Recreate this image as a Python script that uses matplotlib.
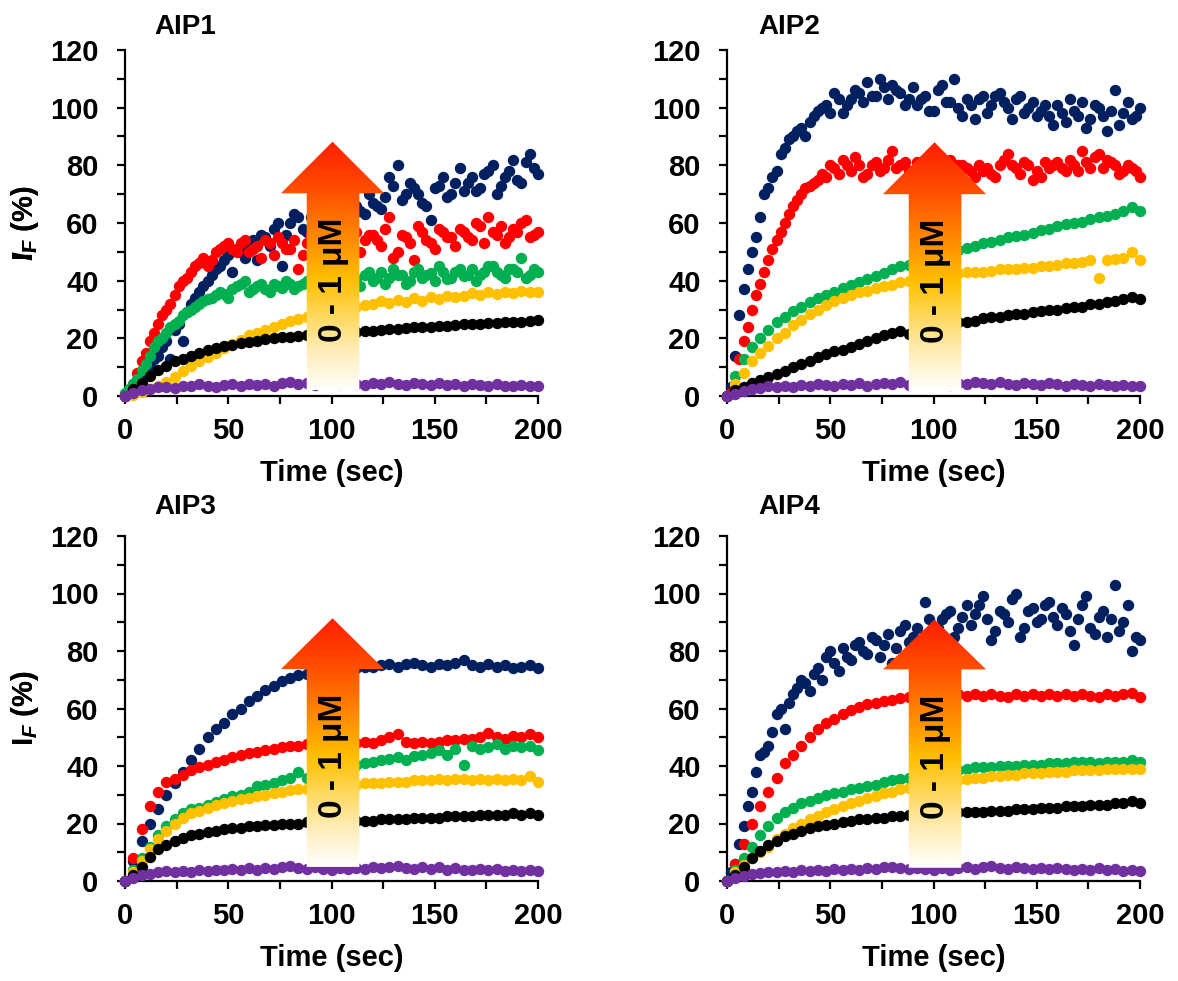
import matplotlib
matplotlib.use("Agg")
import matplotlib.pyplot as plt
import numpy as np
from matplotlib.patches import Polygon
from matplotlib.colors import LinearSegmentedColormap

plt.rcParams['font.family'] = 'Liberation Sans'
plt.rcParams['font.weight'] = 'bold'
plt.rcParams['mathtext.fontset'] = 'custom'
plt.rcParams['mathtext.rm'] = 'Liberation Sans:bold'
plt.rcParams['mathtext.it'] = 'Liberation Sans:italic:bold'
plt.rcParams['mathtext.bf'] = 'Liberation Sans:bold'

# time axis (sec), one reading every 4 s
time_s = list(range(0, 201, 4))
# extra readings in between (t = 2, 6, ... 198) for the scattered traces
time_mid = list(range(2, 200, 4))

# series colours, highest concentration first (plot order)
series_colors = ['#002060', '#FF0000', '#00B050', '#FFC000', '#000000', '#7030A0']

# ---------------- AIP1 ----------------
aip1_navy = [0, 2, 5, 10, 14, 19, 23, 19, 32, 36,
             40, 44, 47, 43, 50, 52, 47, 55, 58, 45,
             60, 62, 57, 61, 63, 60, 65, 62, 66, 63,
             67, 65, 76, 80, 70, 72, 67, 61, 73, 69,
             74, 71, 76, 72, 78, 70, 76, 82, 74, 84,
             77]
aip1_navy_mid = [1, 4, 8, 13, 17, 13, 25, 29, 34, 38,
                 42, 45, 49, 51, 48, 54, 56, 52, 60, 56,
                 63, 58, 62, 64, 59, 66, 63, 68, 64, 70,
                 66, 69, 73, 68, 74, 70, 66, 72, 76, 70,
                 79, 74, 71, 77, 80, 73, 78, 75, 81, 79]
aip1_red = [0, 4, 12, 19, 25, 30, 35, 40, 43, 46,
            45, 50, 52, 51, 53, 50, 52, 54, 49, 53,
            51, 44, 53, 55, 51, 54, 56, 52, 57, 54,
            56, 52, 62, 50, 55, 47, 57, 53, 58, 55,
            52, 57, 54, 59, 62, 56, 53, 58, 60, 55,
            57]
aip1_red_mid = [1.5, 8, 15, 22, 28, 32, 38, 41, 45, 48,
                47, 51, 53, 50, 54, 51, 48, 53, 55, 51,
                54, 49, 56, 53, 58, 51, 55, 53, 50, 56,
                54, 58, 48, 56, 53, 59, 54, 51, 57, 55,
                58, 55, 60, 53, 57, 59, 55, 57, 61, 56]
aip1_green = [1, 4, 9, 14, 19, 22, 25, 28, 30, 32,
              33.5, 35, 35.5, 37, 39, 36, 38, 37, 39, 37.5,
              39, 38, 40, 37, 39.5, 38.5, 41, 39, 40.5, 42,
              40, 43, 41, 42, 39, 43, 41, 42.5, 45, 40.5,
              43, 41.5, 44, 42, 45, 43, 41, 44, 48, 42,
              43]
aip1_green_mid = [2.5, 6, 11, 17, 20, 24, 26, 29, 31, 33,
                  34, 36, 34, 38, 40, 37, 39, 36, 38, 40,
                  37, 39, 41, 38, 40, 42, 39, 41, 38, 43,
                  41, 39, 44, 42, 40, 44, 42, 40, 43, 41,
                  44, 42, 40, 43, 45, 42, 44, 43, 41, 44]
aip1_yellow = [0, 0.5, 1.5, 2.5, 3.5, 5, 6.5, 8.5, 10.5, 12,
               13.5, 15, 16.5, 18, 19.5, 21, 22, 23, 24, 25,
               26, 26.8, 27.5, 28.2, 29, 29.5, 30, 30.5, 31, 31.4,
               31.8, 32.9, 32.1, 33.4, 32.6, 33.9, 33.1, 34.2, 33.6, 34.8,
               34.5, 34.8, 35.6, 35.2, 35.9, 35.5, 36.2, 35.7, 36.4, 35.9,
               36]
aip1_black = [0, 2.5, 4.5, 7, 9, 10.5, 12, 13, 14, 15,
              15.8, 16.5, 17.2, 17.8, 18.3, 18.8, 19.2, 19.6, 20, 20.3,
              20.6, 20.9, 21.1, 21.3, 21.5, 21.7, 21.9, 22.1, 22.3, 22.5,
              22.7, 22.9, 23.1, 23.3, 23.5, 23.8, 23.9, 24.1, 24.3, 24.4,
              24.6, 24.8, 25, 25.1, 25.3, 25.4, 25.6, 25.7, 25.8, 26,
              26.2]
aip1_purple = [0, 1.2, 2, 2.5, 3, 3.2, 2.8, 3.5, 3.3, 4,
               3.6, 3.2, 3.8, 4.2, 3.5, 4, 3.7, 4.3, 3.6, 4.5,
               5, 4.2, 4.6, 3.9, 4.8, 4.4, 4, 4.7, 4.2, 3.8,
               4.6, 4.1, 5, 4.3, 3.9, 4.6, 4.2, 3.7, 4.4, 3.9,
               4.1, 3.6, 4.2, 3.8, 3.4, 4, 3.6, 3.3, 3.9, 3.5,
               3.3]

# ---------------- AIP2 ----------------
aip2_navy = [0, 14, 37, 50, 62, 72, 78, 86, 90, 93,
             95, 99, 101, 105, 98, 103, 105, 109, 104, 107,
             108, 105, 103, 101, 104, 99, 108, 102, 100, 103,
             96, 104, 101, 105, 100, 103, 98, 102, 99, 97,
             101, 95, 99, 102, 96, 100, 92, 106, 98, 96,
             100]
aip2_navy_mid = [3, 28, 44, 55, 70, 76, 84, 89, 92, 90,
                 97, 100, 98, 103, 101, 106, 102, 104, 110, 103,
                 106, 101, 107, 103, 99, 106, 102, 110, 97, 101,
                 103, 98, 104, 102, 96, 104, 100, 97, 101, 94,
                 98, 103, 97, 93, 101, 97, 99, 94, 102, 97]
aip2_red = [0, 3, 19, 30, 39, 47, 54, 60, 66, 70,
            73, 75, 76, 79, 82, 78, 80, 77, 81, 79,
            85, 80, 78, 81, 79, 80, 78, 82, 80, 79,
            76, 78, 77, 80, 84, 79, 81, 75, 76, 79,
            81, 78, 80, 85, 79, 84, 82, 80, 78, 79,
            76]
aip2_red_mid = [1, 13, 24, 35, 43, 51, 57, 63, 68, 72,
                74, 77, 80, 77, 80, 83, 76, 80, 78, 82,
                79, 81, 77, 80, 82, 78, 81, 77, 80, 78,
                80, 79, 76, 82, 80, 77, 80, 78, 81, 80,
                79, 82, 78, 81, 83, 79, 81, 77, 80, 78]
aip2_green = [0, 7, 13, 17, 20, 23, 25.5, 27.5, 29.5, 31,
              32.5, 34, 35, 36, 37.5, 38.5, 39.5, 40.5, 41.5, 42.5,
              44, 45, 45.5, 46.5, 47.5, 48.5, 49, 50, 50.5, 51.5,
              52, 53, 53.5, 54, 55, 55.5, 56, 56.5, 57.5, 58,
              59, 59.5, 60, 60.5, 61.5, 62, 62.5, 63, 64, 65.5,
              64]
aip2_yellow = [0, 4, 8, 12, 15, 17.5, 20, 22, 24.5, 26.5,
               28.5, 30, 31.5, 33, 34, 35, 36, 36.5, 37.5, 38,
               38.5, 39.5, 40, 40.5, 41, 41.5, 42, 42, 42.5, 43,
               43, 43, 43.5, 44, 44, 44, 44.5, 44.5, 45, 45,
               45.5, 46, 46, 46.5, 47, 41, 47, 47.5, 48, 50,
               47]
aip2_black = [0, 2, 3, 4.5, 5.5, 6.5, 7.5, 8.5, 10, 11,
              12, 13.5, 14.5, 15.5, 16, 17, 18, 19, 20, 21,
              22, 22.5, 21.5, 22.5, 23.5, 24, 24.5, 25, 25.5, 25.5,
              26, 27, 27.5, 27.5, 28, 28.5, 28.5, 29, 29.5, 30,
              30, 30.5, 31, 31, 32, 32, 32.5, 33, 33.5, 34.5,
              33.5]
aip2_purple = [0, 0.8, 1.8, 2.4, 2.8, 3.3, 3, 3.6, 3.2, 3.9,
               3.5, 4.1, 3.7, 3.4, 4.2, 3.8, 4.4, 3.6, 4, 4.6,
               4.3, 4.8, 3.9, 4.5, 4.1, 4.7, 4.3, 3.8, 4.6, 4.2,
               4.9, 4.4, 4, 4.7, 4.3, 3.9, 4.5, 4.1, 3.7, 4.4,
               4, 3.6, 4.3, 3.8, 3.5, 4.1, 3.7, 3.4, 3.9, 3.6,
               3.4]

# ---------------- AIP3 ----------------
aip3_navy = [0, 7, 14, 20, 25, 30, 34, 38, 42, 46,
             50, 53, 55, 58, 60, 62.5, 64.5, 66.5, 68, 69.5,
             70.5, 71.5, 72, 72.5, 73, 73.5, 73.5, 74, 74, 74.5,
             74.5, 75, 75.5, 74.5, 75.5, 76, 75, 74.5, 75.5, 75,
             76, 77, 75, 74.5, 75.5, 74.5, 75, 74, 74.5, 75,
             74]
aip3_red = [0, 8, 18, 26, 31, 34.5, 35.5, 37, 38.5, 39.5,
            40.5, 41.5, 42, 43, 44, 44.5, 45, 45.5, 46, 46.5,
            47, 47, 47.5, 47, 47.5, 48, 47.5, 48, 48, 48.5,
            48, 49, 50, 51, 48.5, 48, 48.5, 48, 48.5, 49,
            49, 49.5, 49.5, 50, 51.5, 50, 49.5, 50.5, 50, 51,
            50]
aip3_green = [0, 4, 8, 12, 16, 19, 21.5, 23.5, 25, 25.5,
              26.5, 27.5, 28.5, 29.5, 30, 31, 33, 33.5, 34, 35,
              36, 38, 36, 37, 38, 38.5, 39, 40, 40.5, 41,
              41.5, 42, 42.5, 43, 42, 43.5, 44, 44.5, 45.5, 44,
              46, 40.5, 47, 46, 46.5, 47.5, 46, 47, 46.5, 47,
              45.5]
aip3_yellow = [0, 3, 7, 11, 14.5, 17.5, 20, 22, 23.5, 24.5,
               25.5, 26.5, 27, 28, 28.5, 29, 29.5, 30, 30.5, 31,
               31.5, 32, 32, 32.5, 32.5, 33, 33, 33.5, 33.5, 34,
               34, 34, 34.5, 34.5, 34.5, 35, 35, 35, 35.5, 35,
               35.5, 35.5, 35, 35.5, 35, 35.5, 35, 35.5, 35, 36.5,
               34.5]
aip3_black = [0, 2, 5, 8.5, 11, 12.5, 14, 15, 16, 16.5,
              17, 17.5, 18, 18.5, 18.5, 19, 19, 19.5, 19.5, 20,
              20, 20, 20.5, 20.5, 20.5, 21, 21, 21, 21, 21,
              21, 21.5, 21.5, 21.5, 21.5, 22, 22, 22, 22, 22.5,
              22.5, 22.5, 22.5, 23, 23, 23, 23, 23.5, 23, 23.5,
              23]
aip3_purple = [0, 1, 2, 2.6, 3, 3.4, 3.1, 3.6, 3.3, 3.8,
               3.4, 4, 3.7, 4.2, 3.9, 4.4, 4, 4.6, 4.2, 4.8,
               5.2, 4.5, 4.2, 4.7, 4.3, 3.9, 4.5, 4.1, 4.6, 4.3,
               4.8, 4.4, 5, 5.3, 4.6, 4.2, 4.8, 4.3, 4.7, 4,
               4.4, 4, 3.7, 4.2, 3.8, 4.3, 3.6, 4, 3.5, 3.8,
               3.4]

# ---------------- AIP4 ----------------
aip4_navy = [0, 6, 19, 31, 44, 47, 58, 53, 65, 70,
             66, 74, 78, 76, 81, 77, 83, 79, 84, 82,
             76, 87, 83, 88, 97, 86, 91, 94, 88, 96,
             93, 99, 84, 94, 90, 100, 88, 95, 91, 97,
             89, 93, 82, 96, 88, 92, 85, 103, 90, 80,
             84]
aip4_navy_mid = [3, 13, 26, 38, 45, 52, 60, 62, 67, 69,
                 72, 70, 80, 73, 78, 82, 80, 85, 78, 86,
                 81, 89, 85, 80, 91, 88, 93, 85, 92, 89,
                 96, 91, 87, 93, 98, 85, 94, 90, 96, 92,
                 95, 87, 91, 99, 86, 94, 91, 87, 96, 85]
aip4_red = [0, 6, 13, 20, 26, 31, 36, 41, 44, 47,
            50, 53, 55, 56.5, 58, 59.5, 60.5, 61.5, 62, 62.5,
            63, 63.5, 64, 64, 64, 64.5, 64.5, 64, 65, 64.5,
            65, 64.5, 65, 64.5, 64, 65, 64.5, 65, 64.5, 65,
            64.5, 65, 64.5, 65, 64.5, 64, 65, 64.5, 65, 65.5,
            64]
aip4_green = [0, 4, 8, 12, 16, 19, 22, 24, 25.5, 27,
              28, 29, 30, 30.5, 31, 32, 32.5, 33, 33.5, 34.5,
              35, 35.5, 36, 36.5, 37, 37.5, 38, 38.5, 38.5, 39,
              39.5, 39.5, 39.5, 40, 40, 40, 40.5, 40.5, 40.5, 41,
              41, 41, 41.5, 41.5, 41.5, 41, 41.5, 41.5, 41.5, 42,
              41.5]
aip4_yellow = [0, 3, 5.5, 8, 10, 12, 14.5, 16.5, 18.5, 20,
               21.5, 22.5, 24, 25, 26, 27, 28, 29, 29.5, 30.5,
               31, 32, 32.5, 33, 33.5, 34, 34.5, 35, 35, 35.5,
               36, 36, 36.5, 36.5, 37, 37, 37.5, 37.5, 37.5, 38,
               38, 38, 38.5, 38.5, 38.5, 38.5, 39, 39, 39, 39,
               39]
aip4_black = [0, 2, 5, 8, 10.5, 12.5, 14, 15.5, 16.5, 17.5,
              18.5, 19, 19.5, 20, 20.5, 21, 21.5, 21.5, 22, 22,
              22.5, 22.5, 23, 23, 23, 23.5, 23.5, 23.5, 24, 24,
              24, 24, 24.5, 24.5, 24.5, 25, 25, 25, 25.5, 25.5,
              25.5, 26, 26, 26, 26.5, 26.5, 26.5, 27, 27, 28,
              27]
aip4_purple = [0, 1, 1.8, 2.5, 2.9, 3.2, 3, 3.5, 3.2, 3.7,
               3.4, 3.9, 3.6, 4.1, 3.8, 4.3, 3.9, 4.5, 4.1, 4.7,
               5, 4.4, 4.1, 4.6, 4.2, 3.8, 4.4, 4, 4.5, 4.8,
               4.3, 4.7, 5.1, 4.5, 4.2, 4.8, 4.4, 4.1, 4.6, 4.2,
               4.5, 4.1, 3.8, 4.3, 3.9, 4.4, 3.7, 4.1, 3.6, 4,
               3.5]

panel_titles = ['AIP1', 'AIP2', 'AIP3', 'AIP4']
panel_series = [
    [aip1_navy, aip1_red, aip1_green, aip1_yellow, aip1_black, aip1_purple],
    [aip2_navy, aip2_red, aip2_green, aip2_yellow, aip2_black, aip2_purple],
    [aip3_navy, aip3_red, aip3_green, aip3_yellow, aip3_black, aip3_purple],
    [aip4_navy, aip4_red, aip4_green, aip4_yellow, aip4_black, aip4_purple],
]
# in-between readings, keyed by (panel, series)
panel_mid = {
    (0, 0): aip1_navy_mid, (0, 1): aip1_red_mid, (0, 2): aip1_green_mid,
    (1, 0): aip2_navy_mid, (1, 1): aip2_red_mid,
    (3, 0): aip4_navy_mid,
}
ylabels = [r'$\mathit{I}_\mathrm{F}$ (%)', r'$\mathrm{I}_\mathit{F}$ (%)',
           r'$\mathrm{I}_\mathit{F}$ (%)', r'$\mathrm{I}_\mathit{F}$ (%)']
arrow_label = '0 - 1 μM'

# layout in pixels (figure is 1178 x 981)
W, H = 1178.0, 981.0
axes_px = [(125, 50, 538, 396), (727, 50, 1140, 396),
           (125, 536, 538, 881), (727, 536, 1140, 881)]
title_px = [(185, 27), (789, 27), (185, 507), (789, 507)]
# arrow: (bottom, head base, tip, text centre) in data units
arrow_geom = [(2.0, 70.3, 88.2, 40.2), (1.7, 70.0, 88.0, 40.0),
              (4.9, 73.7, 91.4, 43.6), (4.6, 73.6, 91.0, 43.3)]

arrow_cmap = LinearSegmentedColormap.from_list('arrow', [
    (0.0, '#FFFFFF'), (0.17, '#FFEBB0'), (0.31, '#FFD655'), (0.44, '#FFC000'),
    (0.56, '#FF9A00'), (0.79, '#FF5200'), (1.0, '#FF1E00')])

fig = plt.figure(figsize=(11.78, 9.81), dpi=100)

for i in range(4):
    x0, y0, x1, y1 = axes_px[i]
    ax = fig.add_axes([x0 / W, 1 - y1 / H, (x1 - x0) / W, (y1 - y0) / H])

    for j, (vals, col) in enumerate(zip(panel_series[i], series_colors)):
        tt = list(time_s)
        yy = list(vals)
        if (i, j) in panel_mid:
            tt += time_mid
            yy += panel_mid[(i, j)]
        ax.plot(tt, yy, 'o', color=col, markersize=8.2, markeredgewidth=0,
                clip_on=False, zorder=3)

    # gradient arrow
    bot, base, tip, ty = arrow_geom[i]
    verts = [(88, bot), (113.5, bot), (113.5, base), (125.5, base),
             (100.5, tip), (75.5, base), (88, base)]
    poly = Polygon(verts, closed=True, facecolor='none', edgecolor='none', zorder=5)
    ax.add_patch(poly)
    grad = np.linspace(0, 1, 256).reshape(-1, 1)
    im = ax.imshow(grad, extent=[75.5, 125.5, bot, tip], origin='lower',
                   cmap=arrow_cmap, aspect='auto', zorder=5, interpolation='bilinear')
    im.set_clip_path(poly)
    ax.text(100.8, ty, arrow_label, rotation=90, ha='center', va='center',
            fontsize=24, fontweight='bold', color='black', zorder=6)

    ax.set_xlim(0, 200)
    ax.set_ylim(0, 120)
    ax.set_xticks([0, 50, 100, 150, 200])
    ax.set_xticks([25, 75, 125, 175], minor=True)
    ax.set_yticks([0, 20, 40, 60, 80, 100, 120])
    ax.set_yticks([10, 30, 50, 70, 90, 110], minor=True)
    for side in ['top', 'right']:
        ax.spines[side].set_visible(False)
    for side in ['left', 'bottom']:
        ax.spines[side].set_linewidth(1.6)
    ax.tick_params(which='both', direction='out', length=6, width=1.6)
    ax.tick_params(axis='y', which='major', labelsize=21, pad=13)
    ax.tick_params(axis='x', which='major', labelsize=21, pad=9)

    ax.set_xlabel('Time (sec)', fontsize=21, fontweight='bold')
    ax.xaxis.set_label_coords(0.5, -77.0 / (y1 - y0))
    ax.xaxis.label.set_va('center')
    ax.set_ylabel(ylabels[i], fontsize=21, fontweight='bold')
    ax.yaxis.set_label_coords((25 - x0) / (x1 - x0), 0.5)
    ax.yaxis.label.set_va('center')

    tx, tyy = title_px[i]
    fig.text(tx / W, 1 - tyy / H, panel_titles[i], ha='center', va='center',
             fontsize=20, fontweight='bold')

fig.savefig('out.png', dpi=100)
